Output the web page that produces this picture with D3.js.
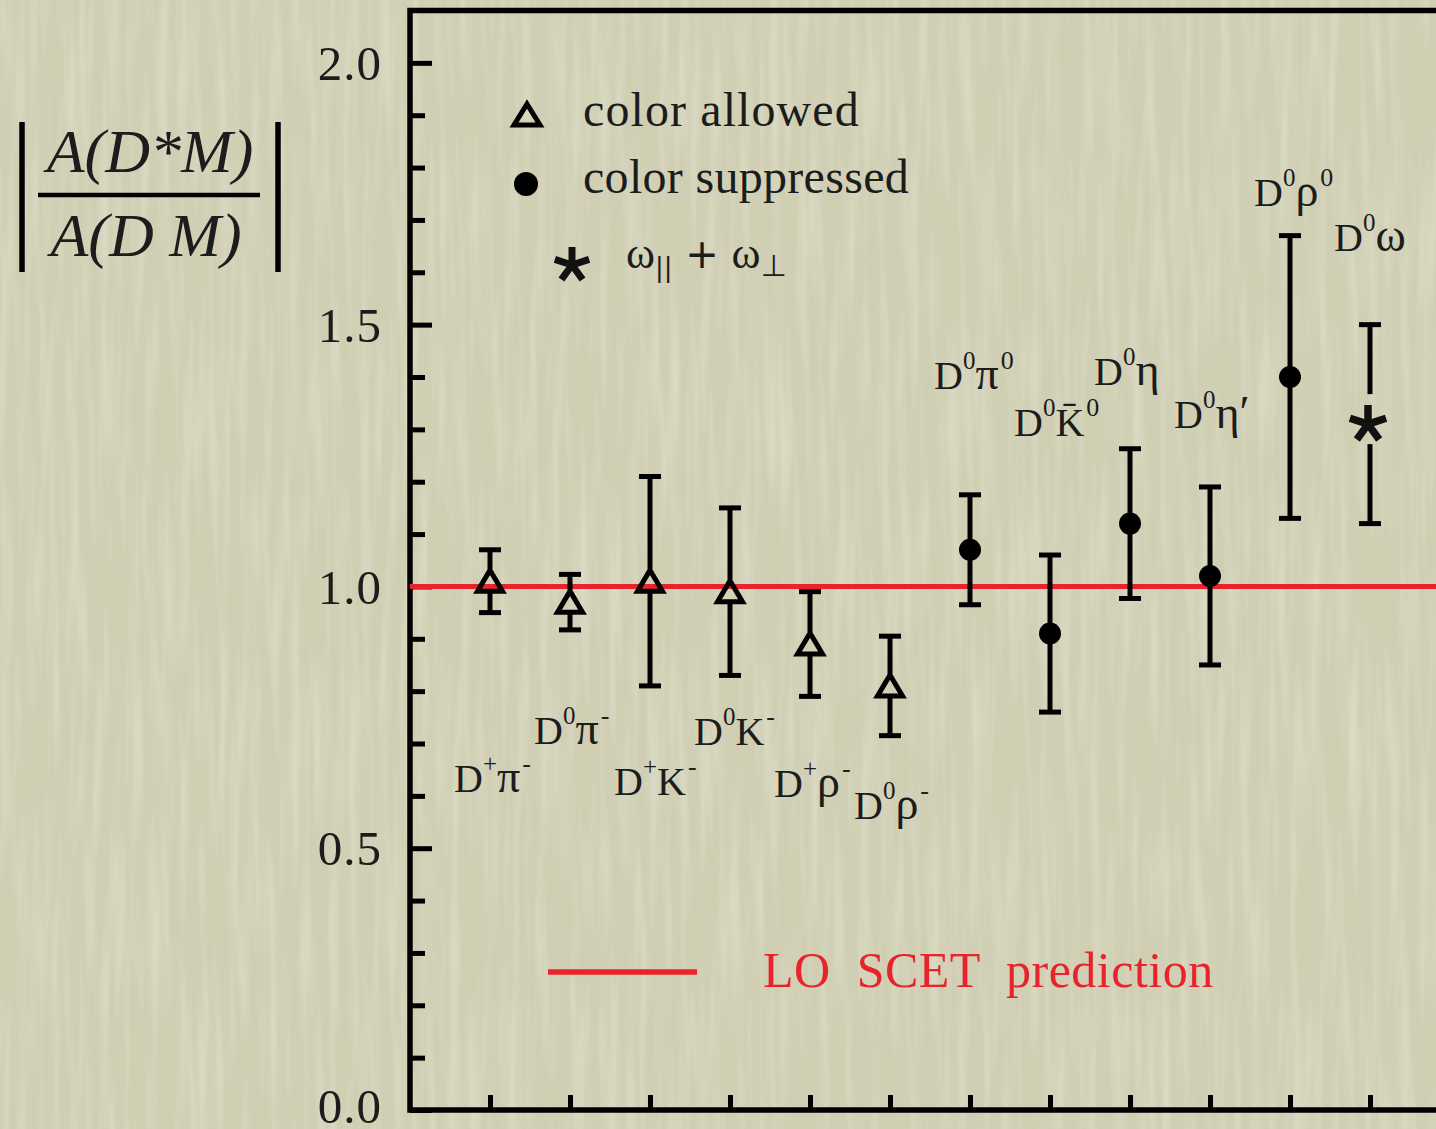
<!DOCTYPE html>
<html>
<head>
<meta charset="utf-8">
<script src="https://cdn.jsdelivr.net/npm/d3@7"></script>
<style>
  html, body { margin: 0; padding: 0; background: #d1d0b5; }
  svg { display: block; }
  text { font-family: "Liberation Serif", "Times New Roman", serif; fill: #1c1c1c; }
</style>
</head>
<body>
<svg id="chart" width="1436" height="1129"></svg>
<script>
// ---------------- data ----------------
const categories = ["D+π-", "D0π-", "D+K-", "D0K-", "D+ρ-", "D0ρ-", "D0π0", "D0K̄0", "D0η", "D0η′", "D0ρ0", "D0ω"];
const labelSup1  = ["+", "0", "+", "0", "+", "0", "0", "0", "0", "0", "0", "0"];
const labelMeson = ["π", "π", "K", "K", "ρ", "ρ", "π", "K\u0304", "η", "η′", "ρ", "ω"];
const labelSup2  = ["-", "-", "-", "-", "-", "-", "0", "0", "", "", "0", ""];
const values     = [1.01, 0.97, 1.01, 0.99, 0.89, 0.81, 1.07, 0.91, 1.12, 1.02, 1.40, 1.31];
const errors     = [0.06, 0.053, 0.20, 0.16, 0.10, 0.095, 0.105, 0.15, 0.143, 0.17, 0.27, 0.19];
const markers    = ["triangle", "triangle", "triangle", "triangle", "triangle", "triangle",
                    "circle", "circle", "circle", "circle", "circle", "star"];
// label baseline heights (in y-axis units)
const labelLevel = [0.607, 0.700, 0.601, 0.697, 0.597, 0.555, 1.378, 1.288, 1.384, 1.302, 1.727, 1.641];
const yMajorTicks = [0.0, 0.5, 1.0, 1.5, 2.0];
const yTickLabels = ["0.0", "0.5", "1.0", "1.5", "2.0"];
const yMinorTicks = d3.range(0, 21).map(i => i / 10);
const prediction = 1.0;
const legendItems = ["color allowed", "color suppressed"];
const predictionLabel = "LO  SCET  prediction";

// ---------------- layout ----------------
const W = 1436, H = 1129;
const pL = 410, pB = 1110, pT = 10.5, pR = 1450;
const svg = d3.select("#chart");
const RED = "#e8232b";
const greek = new Set(["π", "ρ", "η", "η′", "ω"]);

const x = d3.scaleLinear().domain([0, 13]).range([pL, pR]);
const y = d3.scaleLinear().domain([0, 2.1]).range([pB, pT]);

// background paper texture
const defs = svg.append("defs");
const f = defs.append("filter").attr("id", "paper").attr("x", 0).attr("y", 0)
  .attr("width", W).attr("height", H).attr("filterUnits", "userSpaceOnUse");
f.append("feTurbulence").attr("type", "fractalNoise")
  .attr("baseFrequency", "0.10 0.006").attr("numOctaves", 2).attr("seed", 7);
f.append("feColorMatrix").attr("type", "matrix")
  .attr("values", "0 0 0 0 1  0 0 0 0 1  0 0 0 0 0.95  1.6 0 0 0 -0.66");
svg.append("rect").attr("width", W).attr("height", H).attr("fill", "#d0cfb4");
svg.append("rect").attr("width", W).attr("height", H).attr("filter", "url(#paper)").attr("opacity", 0.32);

// ---------------- axes ----------------
const yMinorAxis = d3.axisLeft(y).tickValues(yMinorTicks.filter(v => !yMajorTicks.some(m => Math.abs(m - v) < 1e-9)))
  .tickSize(-15).tickFormat("");
const gMinor = svg.append("g").attr("transform", `translate(${pL},0)`).call(yMinorAxis);
gMinor.select(".domain").remove();
gMinor.selectAll("line").attr("stroke", "#000").attr("stroke-width", 5);

const yAxis = d3.axisLeft(y).tickValues(yMajorTicks).tickSize(-22).tickPadding(28)
  .tickFormat((d, i) => yTickLabels[i]);
const gY = svg.append("g").attr("transform", `translate(${pL},0)`).call(yAxis);
gY.select(".domain").remove();
gY.selectAll("line").attr("stroke", "#000").attr("stroke-width", 5);
gY.selectAll("text").attr("font-family", "Liberation Serif").attr("font-size", 49)
  .attr("fill", "#1c1c1c").attr("dy", d => d === 0 ? "0.26em" : "0.34em").attr("letter-spacing", 1);

const xAxis = d3.axisBottom(x).tickValues(d3.range(1, 13)).tickSize(-15).tickFormat("");
const gX = svg.append("g").attr("transform", `translate(0,${pB})`).call(xAxis);
gX.select(".domain").remove();
gX.selectAll("line").attr("stroke", "#000").attr("stroke-width", 5);

// frame
svg.append("path")
  .attr("d", `M${pR},${pT} H${pL} V${pB} H${pR}`)
  .attr("fill", "none").attr("stroke", "#000").attr("stroke-width", 5.5).attr("stroke-linejoin", "miter");

// prediction line
svg.append("line").attr("x1", pL).attr("x2", pR).attr("y1", y(prediction)).attr("y2", y(prediction))
  .attr("stroke", RED).attr("stroke-width", 5);

// ---------------- markers / error bars ----------------
const triPath = "M0,-11 L12.5,10 L-12.5,10 Z";
function starPath(len) {
  let d = "";
  for (let k = 0; k < 5; k++) {
    const a = -Math.PI / 2 + k * 2 * Math.PI / 5;
    d += `M0,0 L${(len * Math.cos(a)).toFixed(2)},${(len * Math.sin(a)).toFixed(2)} `;
  }
  return d;
}
const gapAbove = { triangle: 12, circle: 0, star: 30 };
const gapBelow = { triangle: 11, circle: 0, star: 20 };
const capW = 11;

const pts = svg.append("g");
values.forEach((v, i) => {
  const cx = x(i + 1), cy = y(v);
  const yt = y(v + errors[i]), yb = y(v - errors[i]);
  const m = markers[i];
  const g = pts.append("g");
  g.append("line").attr("x1", cx).attr("x2", cx).attr("y1", yt).attr("y2", cy - gapAbove[m])
    .attr("stroke", "#000").attr("stroke-width", 5);
  g.append("line").attr("x1", cx).attr("x2", cx).attr("y1", cy + gapBelow[m]).attr("y2", yb)
    .attr("stroke", "#000").attr("stroke-width", 5);
  g.append("line").attr("x1", cx - capW).attr("x2", cx + capW).attr("y1", yt).attr("y2", yt)
    .attr("stroke", "#000").attr("stroke-width", 5);
  g.append("line").attr("x1", cx - capW).attr("x2", cx + capW).attr("y1", yb).attr("y2", yb)
    .attr("stroke", "#000").attr("stroke-width", 5);
  if (m === "triangle") {
    g.append("path").attr("d", triPath).attr("transform", `translate(${cx},${cy})`)
      .attr("fill", "none").attr("stroke", "#000").attr("stroke-width", 5);
  } else if (m === "circle") {
    g.append("circle").attr("cx", cx).attr("cy", cy).attr("r", 11).attr("fill", "#000");
  } else {
    g.append("path").attr("d", starPath(19)).attr("transform", `translate(${cx - 2},${cy})`)
      .attr("fill", "none").attr("stroke", "#111").attr("stroke-width", 7.5);
  }
});

// ---------------- category labels ----------------
const lab = svg.append("g");
categories.forEach((c, i) => {
  const t = lab.append("text").attr("x", x(i + 1) - 36).attr("y", y(labelLevel[i]))
    .attr("font-size", 40);
  t.append("tspan").text("D");
  t.append("tspan").attr("font-size", 25).attr("dy", -20).text(labelSup1[i]);
  t.append("tspan").attr("dy", 20).attr("font-size", greek.has(labelMeson[i]) ? 46 : 40)
    .text(labelMeson[i]);
  if (labelSup2[i]) t.append("tspan").attr("font-size", 26).attr("dy", -20).attr("dx", 2).text(labelSup2[i]);
});

// ---------------- legend ----------------
svg.append("path").attr("d", "M0,-11 L13,10 L-13,10 Z").attr("transform", "translate(527,115)")
  .attr("fill", "none").attr("stroke", "#000").attr("stroke-width", 5);
svg.append("circle").attr("cx", 526).attr("cy", 184).attr("r", 12).attr("fill", "#000");
svg.append("path").attr("d", starPath(18)).attr("transform", "translate(572,265)")
  .attr("fill", "none").attr("stroke", "#111").attr("stroke-width", 7);
svg.append("text").attr("x", 583).attr("y", 126).attr("font-size", 48).attr("letter-spacing", 1.1)
  .text(legendItems[0]);
svg.append("text").attr("x", 583).attr("y", 193).attr("font-size", 48).attr("letter-spacing", 0.3)
  .text(legendItems[1]);
const om = svg.append("text").attr("x", 626).attr("y", 268).attr("font-size", 44)
  .attr("font-family", "DejaVu Serif").style("white-space", "pre");
om.append("tspan").text("ω");
om.append("tspan").attr("font-size", 26).attr("dy", 8).attr("font-family", "DejaVu Sans").text("||");
om.append("tspan").attr("dy", -8).attr("font-size", 40).attr("font-family", "DejaVu Sans").text(" + ");
om.append("tspan").text("ω");
om.append("tspan").attr("font-size", 30).attr("dy", 8).attr("font-family", "DejaVu Sans").text("⊥");

svg.append("line").attr("x1", 548).attr("x2", 697).attr("y1", 972).attr("y2", 972)
  .attr("stroke", RED).attr("stroke-width", 5.5);
svg.append("text").attr("x", 763).attr("y", 987).attr("font-size", 50).attr("letter-spacing", 0.5)
  .style("fill", RED).style("white-space", "pre").text(predictionLabel);

// ---------------- y-axis title ----------------
const yTitle = svg.append("g");
yTitle.append("text").attr("x", 150).attr("y", 172).attr("text-anchor", "middle").attr("font-size", 62)
  .attr("font-style", "italic").text("A(D*M)");
yTitle.append("text").attr("x", 146).attr("y", 256).attr("text-anchor", "middle").attr("font-size", 62)
  .attr("font-style", "italic").style("white-space", "pre").text("A(D M)");
yTitle.append("line").attr("x1", 38).attr("x2", 260).attr("y1", 195).attr("y2", 195)
  .attr("stroke", "#000").attr("stroke-width", 4.5);
yTitle.append("line").attr("x1", 22).attr("x2", 22).attr("y1", 122).attr("y2", 272)
  .attr("stroke", "#000").attr("stroke-width", 5.5);
yTitle.append("line").attr("x1", 278).attr("x2", 278).attr("y1", 122).attr("y2", 272)
  .attr("stroke", "#000").attr("stroke-width", 5.5);
</script>
</body>
</html>
